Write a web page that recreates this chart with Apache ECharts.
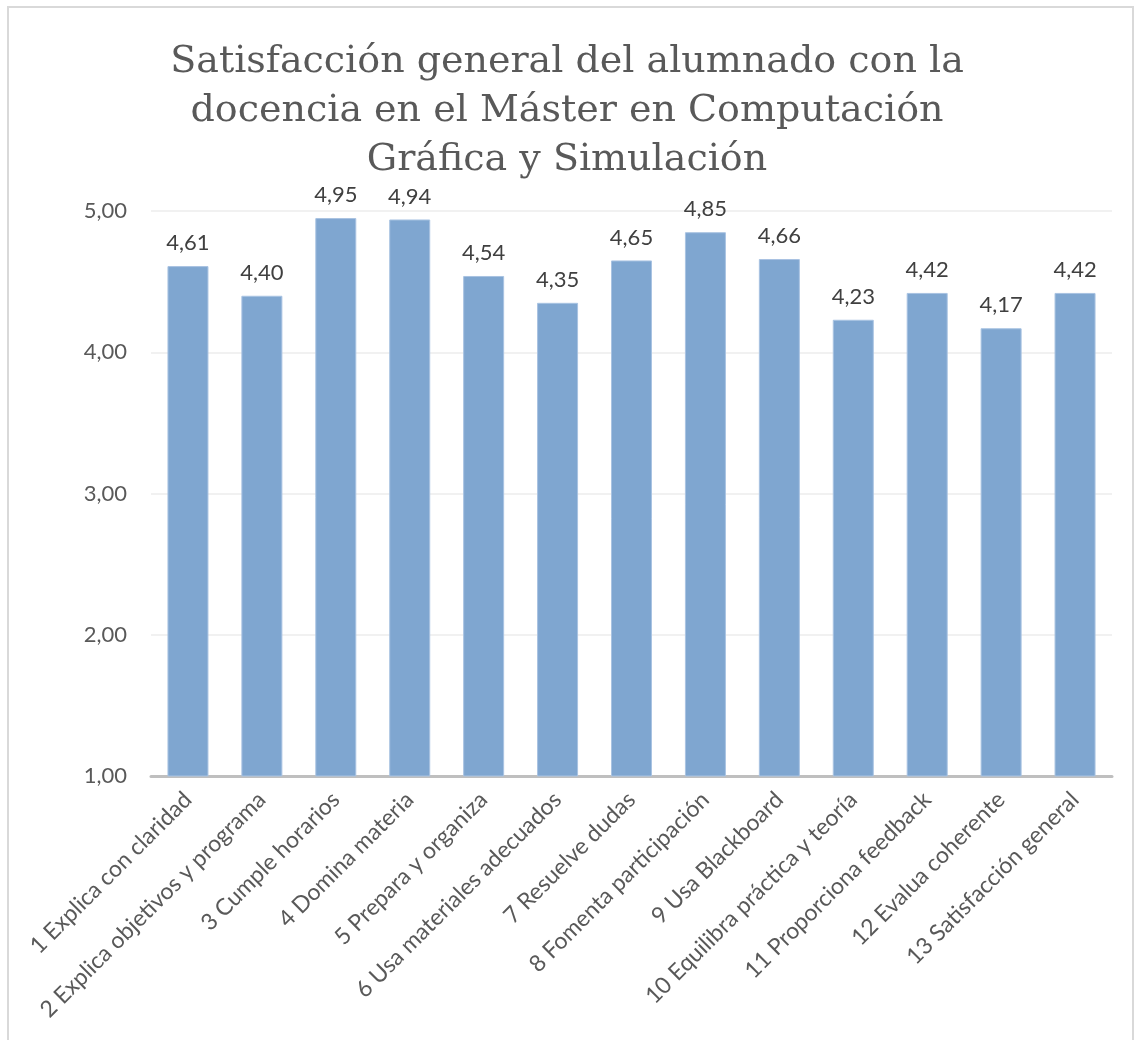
<!DOCTYPE html>
<html>
<head>
<meta charset="utf-8">
<script src="https://cdn.jsdelivr.net/npm/echarts@6/dist/echarts.min.js"></script>
<style>
  html, body { margin: 0; padding: 0; background: #fff; }
  #chart { width: 1134px; height: 1040px; }
</style>
</head>
<body>
<div id="chart"></div>
<script>
// datos
const categories = [
  '1 Explica con claridad',
  '2 Explica objetivos y programa',
  '3 Cumple horarios',
  '4 Domina materia',
  '5 Prepara y organiza',
  '6 Usa materiales adecuados',
  '7 Resuelve dudas',
  '8 Fomenta participación',
  '9 Usa Blackboard',
  '10 Equilibra práctica y teoría',
  '11 Proporciona feedback',
  '12 Evalua coherente',
  '13 Satisfacción general'
];
const values = [4.61, 4.40, 4.95, 4.94, 4.54, 4.35, 4.65, 4.85, 4.66, 4.23, 4.42, 4.17, 4.42];
const yTicks = [1, 2, 3, 4, 5];

const fmt = v => v.toFixed(2).replace('.', ',');

const chart = echarts.init(document.getElementById('chart'));
chart.setOption({
  animation: false,
  title: {
    text: 'Satisfacción general del alumnado con la\ndocencia en el Máster en Computación\nGráfica y Simulación',
    left: 'center',
    top: 33,
    textStyle: {
      fontFamily: 'DejaVu Serif',
      fontSize: 38,
      fontWeight: 'normal',
      color: '#595959',
      lineHeight: 49
    }
  },
  graphic: [{
    type: 'rect',
    shape: { x: 8, y: 7, width: 1125, height: 1040 },
    style: { fill: 'none', stroke: '#d9d9d9', lineWidth: 2 },
    silent: true
  }],
  grid: { left: 151, right: 22, top: 211, bottom: 264 },
  xAxis: {
    type: 'category',
    data: categories,
    axisTick: { show: false },
    axisLine: { lineStyle: { color: '#bfbfbf', width: 3 } },
    axisLabel: {
      rotate: 45,
      interval: 0,
      margin: 20,
      fontFamily: 'Lato',
      fontSize: 23,
      color: '#595959'
    }
  },
  yAxis: {
    type: 'value',
    min: yTicks[0],
    max: yTicks[yTicks.length - 1],
    interval: 1,
    axisLine: { show: false },
    axisTick: { show: false },
    splitLine: { lineStyle: { color: '#ececec', width: 1.5 } },
    axisLabel: {
      formatter: fmt,
      margin: 24,
      fontFamily: 'Lato',
      fontSize: 22,
      color: '#595959'
    }
  },
  series: [{
    type: 'bar',
    data: values,
    barWidth: 41,
    itemStyle: { color: '#7fa6d0', borderColor: '#a9c3e2', borderWidth: 1 },
    label: {
      show: true,
      position: 'top',
      distance: 12,
      formatter: p => fmt(p.value),
      fontFamily: 'Lato',
      fontSize: 22,
      color: '#404040'
    }
  }]
});
</script>
</body>
</html>
